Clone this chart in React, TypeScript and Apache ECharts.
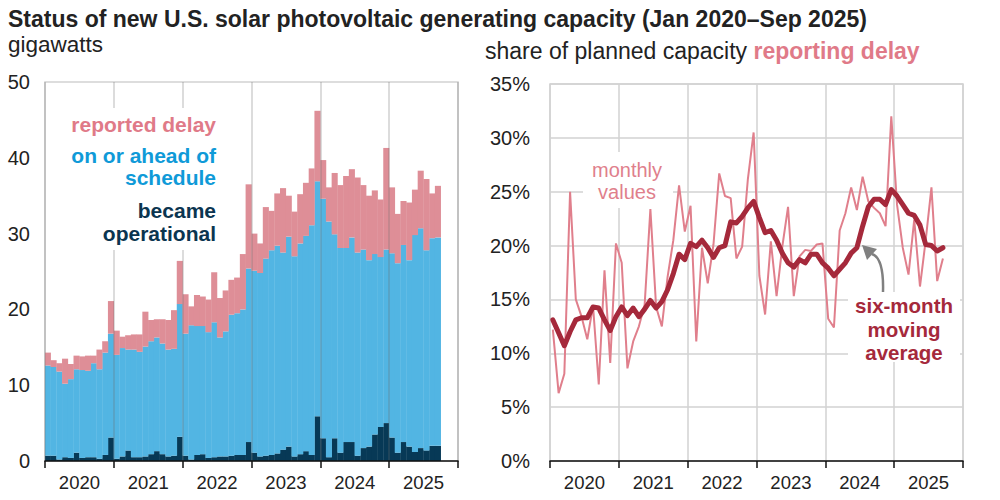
import React, { useEffect, useRef } from "react";
import * as echarts from "echarts";

const FONT = '"Liberation Sans", Arial, Helvetica, sans-serif';

// ---- categories ----
const years = ["2020", "2021", "2022", "2023", "2024", "2025"];
const monthNames = ["Jan", "Feb", "Mar", "Apr", "May", "Jun", "Jul", "Aug", "Sep", "Oct", "Nov", "Dec"];
const months = years.flatMap((y) => monthNames.map((m) => `${m} ${y}`));

// ---- left panel: gigawatts (Jan 2020 - Sep 2025) ----
const becameOperational = [
  0.7, 0.7, 0.2, 0.5, 0.4, 1.1, 0.4, 0.5, 0.5, 0.3, 0.8, 3.1,
  0.3, 0.6, 1.4, 0.5, 0.5, 0.6, 0.9, 1.3, 0.9, 0.6, 0.7, 3.2,
  0.7, 0.2, 0.8, 0.9, 0.4, 0.5, 0.6, 0.6, 0.7, 0.8, 0.8, 2.5,
  1.1, 0.6, 0.7, 0.8, 1.0, 1.5, 1.9, 0.6, 0.9, 1.3, 0.8, 5.9,
  3.0, 0.5, 3.0, 1.1, 2.5, 2.5, 0.7, 1.7, 1.9, 3.5, 4.5, 5.0,
  3.1, 1.1, 2.5, 1.9, 1.2, 1.7, 1.4, 2.0, 2.0,
];
const onOrAheadOfSchedule = [
  11.9, 11.7, 11.6, 9.7, 10.4, 11.0, 11.6, 11.4, 12.4, 11.8, 13.5, 13.7,
  13.7, 14.3, 13.3, 14.2, 13.9, 14.5, 14.9, 15.0, 14.6, 14.1, 14.1, 17.5,
  16.1, 17.7, 17.0, 16.9, 16.6, 17.8, 15.7, 16.5, 18.6, 18.7, 19.2, 22.9,
  24.0, 24.2, 26.0, 27.0, 27.4, 26.0, 27.7, 26.4, 27.8, 28.4, 30.3, 31.0,
  31.6, 31.1, 26.9, 27.0, 25.6, 27.0, 26.8, 26.2, 24.6, 23.8, 22.4, 22.9,
  24.3, 25.0, 26.0, 24.6, 28.6, 29.0, 26.4, 27.4, 27.5,
];
const reportedDelay = [
  1.7, 0.9, 1.1, 3.3, 2.0, 1.8, 1.8, 2.0, 1.0, 2.6, 1.5, 4.3,
  3.2, 1.5, 1.9, 2.0, 2.3, 4.6, 2.8, 2.4, 3.2, 3.9, 5.1, 5.7,
  5.2, 2.5, 4.1, 3.9, 4.3, 6.6, 5.2, 5.4, 4.6, 4.7, 7.3, 11.1,
  4.9, 3.9, 6.8, 5.2, 6.9, 8.5, 5.4, 5.9, 6.5, 7.0, 7.5, 9.3,
  5.1, 4.5, 8.1, 8.3, 9.5, 9.0, 9.9, 8.5, 8.5, 8.4, 7.6, 13.4,
  8.7, 6.5, 5.8, 7.6, 6.0, 7.6, 9.4, 5.9, 6.8,
];

// ---- right panel: share of planned capacity reporting delay (%) ----
const monthlyShare = [
  12.2, 6.3, 8.1, 25.0, 15.0, 13.4, 11.3, 14.4, 7.1, 17.7, 9.1, 20.2,
  18.4, 8.6, 11.1, 12.5, 14.5, 23.4, 14.3, 12.5, 17.1, 20.5, 25.6, 21.3,
  23.7, 11.1, 19.8, 16.5, 20.1, 26.7, 24.6, 24.4, 18.8, 19.9, 26.2, 30.5,
  17.2, 13.6, 20.4, 15.3, 19.9, 23.6, 15.3, 19.0, 19.6, 19.5, 20.1, 20.2,
  13.2, 12.4, 21.4, 23.0, 25.4, 23.3, 26.4, 24.1, 23.5, 23.0, 21.8, 32.0,
  23.8, 19.8, 17.3, 22.4, 16.2, 20.5, 25.4, 16.7, 18.8,
];
const sixMonthAverage = [
  13.1, 11.9, 10.7, 12.0, 13.1, 13.3, 13.3, 14.3, 14.2, 13.1, 12.1, 13.4,
  14.3, 13.5, 14.2, 13.4, 14.1, 14.9, 14.2, 14.8, 15.9, 17.4, 19.2, 18.7,
  20.2, 19.9, 20.5, 19.8, 18.9, 19.8, 20.0, 22.2, 22.1, 22.7, 23.5, 24.1,
  22.6, 21.2, 21.4, 20.5, 19.3, 18.4, 18.0, 18.7, 18.4, 19.2, 19.2, 18.4,
  17.9, 17.2, 17.8, 18.4, 19.3, 19.8, 21.8, 23.6, 24.3, 24.3, 23.8, 25.2,
  24.6, 23.8, 23.0, 22.8, 21.9, 20.1, 20.0, 19.5, 19.8,
];

const C_DELAY = "#de8e97";
const C_SCHED = "#52b5e3";
const C_OPER = "#073956";
const C_DELAY_TXT = "#e07a88";
const C_SCHED_TXT = "#0f9ad8";
const C_OPER_TXT = "#0b3550";
const C_MONTHLY = "#e07f8c";
const C_AVG = "#a5293b";
const GRID_GRAY = "#d2d2d2";

const yearAxisCommon = {
  type: "category",
  data: years,
  position: "bottom",
  boundaryGap: true,
  axisLine: { show: true, lineStyle: { color: "#111", width: 1.5 } },
  axisTick: { show: true, length: 7, inside: false, lineStyle: { color: "#111", width: 1.5 } },
  axisLabel: { fontSize: 18.5, color: "#222", margin: 12, fontFamily: FONT },
};

function txt(text: string, x: number, y: number, fontSize: number, color: string, bold: boolean, align = "left") {
  return {
    type: "text",
    x,
    y,
    z: 20,
    style: {
      text,
      fill: color,
      font: `${bold ? "bold " : ""}${fontSize}px ${FONT}`,
      textAlign: align,
      textVerticalAlign: "middle",
    },
  };
}

function barSeries(name: string, data: number[], color: string) {
  return {
    name,
    type: "bar",
    xAxisIndex: 0,
    yAxisIndex: 0,
    stack: "gw",
    data,
    barWidth: "106%",
    itemStyle: { color },
  };
}

export default function App() {
  const ref = useRef<HTMLDivElement>(null);

  useEffect(() => {
    const chart = echarts.init(ref.current as HTMLDivElement, null, { renderer: "svg" });
    const option: any = {
      animation: false,
      backgroundColor: "#ffffff",
      textStyle: { fontFamily: FONT },
      grid: [
        { left: 45, top: 82, width: 413, height: 379, show: true, borderColor: GRID_GRAY, borderWidth: 1.5, containLabel: false },
        { left: 550, top: 84, width: 413, height: 377, show: true, borderColor: GRID_GRAY, borderWidth: 1.5, containLabel: false },
      ],
      xAxis: [
        { type: "category", gridIndex: 0, data: months, show: false, boundaryGap: true },
        {
          ...yearAxisCommon,
          gridIndex: 0,
          z: 3,
          splitLine: { show: true, lineStyle: { color: "rgba(110,110,110,0.32)", width: 1.5 } },
        },
        { type: "category", gridIndex: 1, data: months, show: false, boundaryGap: true },
        {
          ...yearAxisCommon,
          gridIndex: 1,
          splitLine: { show: true, lineStyle: { color: GRID_GRAY, width: 1.5 } },
        },
      ],
      yAxis: [
        {
          type: "value",
          gridIndex: 0,
          min: 0,
          max: 50,
          interval: 10,
          axisLine: { show: false },
          axisTick: { show: false },
          splitLine: { show: false },
          axisLabel: { fontSize: 20, color: "#222", margin: 15, fontFamily: FONT },
        },
        {
          type: "value",
          gridIndex: 1,
          min: 0,
          max: 35,
          interval: 5,
          axisLine: { show: false },
          axisTick: { show: false },
          splitLine: { show: true, lineStyle: { color: GRID_GRAY, width: 1.5 } },
          axisLabel: { fontSize: 20, color: "#222", margin: 20, fontFamily: FONT, formatter: "{value}%" },
        },
      ],
      series: [
        barSeries("became operational", becameOperational, C_OPER),
        barSeries("on or ahead of schedule", onOrAheadOfSchedule, C_SCHED),
        barSeries("reported delay", reportedDelay, C_DELAY),
        {
          name: "monthly values",
          type: "line",
          xAxisIndex: 2,
          yAxisIndex: 1,
          data: monthlyShare,
          symbol: "none",
          z: 3,
          lineStyle: { color: C_MONTHLY, width: 2 },
        },
        {
          name: "six-month moving average",
          type: "line",
          xAxisIndex: 2,
          yAxisIndex: 1,
          data: sixMonthAverage,
          symbol: "none",
          z: 4,
          lineStyle: { color: C_AVG, width: 5, join: "round", cap: "round" },
        },
      ],
      graphic: [
        // title & axis captions
        txt("Status of new U.S. solar photovoltaic generating capacity (Jan 2020\u2013Sep 2025)", 8, 19, 23, "#222", true),
        txt("gigawatts", 8, 44, 22.5, "#222", false),
        {
          type: "text",
          x: 485,
          y: 51,
          z: 20,
          style: {
            text: "{a|share of planned capacity }{b|reporting delay}",
            textVerticalAlign: "middle",
            rich: {
              a: { fontSize: 23, fontFamily: FONT, fill: "#222", color: "#222" },
              b: { fontSize: 23, fontFamily: FONT, fontWeight: "bold", fill: C_DELAY_TXT, color: C_DELAY_TXT },
            },
          },
        },
        // left legend box + labels
        { type: "rect", z: 10, shape: { x: 60, y: 108, width: 166, height: 142 }, style: { fill: "#ffffff" } },
        txt("reported delay", 216, 124, 21, C_DELAY_TXT, true, "right"),
        txt("on or ahead of", 216, 155, 21, C_SCHED_TXT, true, "right"),
        txt("schedule", 216, 177, 21, C_SCHED_TXT, true, "right"),
        txt("became", 216, 210, 21, C_OPER_TXT, true, "right"),
        txt("operational", 216, 233, 21, C_OPER_TXT, true, "right"),
        // right annotations
        { type: "rect", z: 1, shape: { x: 583, y: 152, width: 90, height: 56 }, style: { fill: "#ffffff" } },
        txt("monthly", 627, 170, 20, C_MONTHLY, false, "center"),
        txt("values", 627, 192, 20, C_MONTHLY, false, "center"),
        { type: "rect", z: 1, shape: { x: 848, y: 292, width: 112, height: 70 }, style: { fill: "#ffffff" } },
        txt("six-month", 904, 305, 20.5, C_AVG, true, "center"),
        txt("moving", 904, 329, 20.5, C_AVG, true, "center"),
        txt("average", 904, 352, 20.5, C_AVG, true, "center"),
        {
          type: "bezierCurve",
          z: 20,
          shape: { x1: 872, y1: 254, cpx1: 884, cpy1: 258, x2: 883, y2: 292 },
          style: { stroke: "#808080", lineWidth: 2.5, fill: null },
        },
        {
          type: "polygon",
          z: 20,
          shape: { points: [[862, 245], [877, 249], [867, 260]] },
          style: { fill: "#808080" },
        },
      ],
    };
    chart.setOption(option);
    return () => chart.dispose();
  }, []);

  return (
    <div
      ref={ref}
      style={{ position: "fixed", left: 0, top: 0, width: 1000, height: 500, background: "#fff" }}
    />
  );
}
